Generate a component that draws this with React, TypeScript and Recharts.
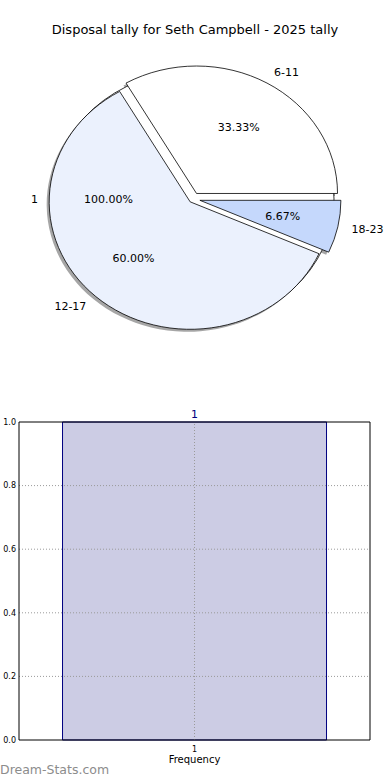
import { PieChart, Pie, BarChart, Bar, XAxis, YAxis, ReferenceLine, LabelList } from 'recharts';

const sliceNames = ['6-11', '12-17', '18-23'];
const sliceCounts = [5, 9, 1];
const sliceColors = ['#ffffff', '#ebf1fd', '#c5d8fc'];
const sliceExplode = [0.05, 0.03, 0.05];

const totalNames = ['1'];
const totalCounts = [1];
const totalColors = ['#ffffff'];
const totalExplode = [0];

const barCategories = ['1'];
const barFrequency = [1];
const yTicks = [0, 0.2, 0.4, 0.6, 0.8, 1.0];

const pieData = sliceNames.map((name, i) => ({ name, value: sliceCounts[i] }));
const totalData = totalNames.map((name, i) => ({ name, value: totalCounts[i] }));
const barData = barCategories.map((name, i) => ({ name, value: barFrequency[i] }));

const RAD = Math.PI / 180;
const SQUASH = 0.904; // the original pie is drawn as an ellipse
const FONT = '"DejaVu Sans", sans-serif';

function pt(cx: number, cy: number, r: number, a: number, k: number) {
  return [cx + k * r * Math.cos(a * RAD), cy - k * r * SQUASH * Math.sin(a * RAD)];
}

function wedgePath(cx: number, cy: number, r: number, a0: number, a1: number) {
  const rx = r;
  const ry = r * SQUASH;
  if (Math.abs(a1 - a0) >= 359.99) {
    return `M${cx + rx},${cy} A${rx},${ry} 0 1 0 ${cx - rx},${cy} A${rx},${ry} 0 1 0 ${cx + rx},${cy} Z`;
  }
  const [x0, y0] = pt(cx, cy, r, a0, 1);
  const [x1, y1] = pt(cx, cy, r, a1, 1);
  const large = a1 - a0 > 180 ? 1 : 0;
  return `M${cx},${cy} L${x0},${y0} A${rx},${ry} 0 ${large} 0 ${x1},${y1} Z`;
}

function center(p: any, explode: number[]) {
  const e = explode[p.index] ?? 0;
  const [ox, oy] = pt(0, 0, p.outerRadius, p.midAngle, e);
  return [p.cx + ox, p.cy + oy];
}

// shadows sit beneath every wedge of both pies, like matplotlib's zorder
const drawShadow = (explode: number[]) => (p: any) => {
  const [cx, cy] = center(p, explode);
  const d = wedgePath(cx, cy, p.outerRadius, p.startAngle, p.endAngle);
  return <path d={d} transform="translate(-2.5,2.5)" fill="#4d4d4d" fillOpacity={0.5} stroke="none" />;
};

const drawWedge = (explode: number[], colors: string[]) => (p: any) => {
  const [cx, cy] = center(p, explode);
  const d = wedgePath(cx, cy, p.outerRadius, p.startAngle, p.endAngle);
  return <path d={d} fill={colors[p.index]} stroke="#000" strokeWidth={0.8} />;
};

const drawText = (explode: number[]) => (p: any) => {
  const [cx, cy] = center(p, explode);
  const [lx, ly] = pt(cx, cy, p.outerRadius, p.midAngle, 1.1);
  const [tx, ty] = pt(cx, cy, p.outerRadius, p.midAngle, 0.6);
  const name = p.name ?? p.payload?.name;
  return (
    <g>
      <text x={lx} y={ly} textAnchor={lx >= cx ? 'start' : 'end'} dominantBaseline="central"
        fontSize={11} fontFamily={FONT} fill="#000">{name}</text>
      <text x={tx} y={ty} textAnchor="middle" dominantBaseline="central"
        fontSize={11} fontFamily={FONT} fill="#000">{(p.percent * 100).toFixed(2)}%</text>
    </g>
  );
};

const pieProps = {
  dataKey: 'value',
  nameKey: 'name',
  cx: 193,
  cy: 199,
  outerRadius: 141,
  startAngle: 0,
  endAngle: 360,
  fill: 'none',
  stroke: 'none',
  labelLine: false,
  isAnimationActive: false,
};

const gridStyle = { stroke: '#9a9a9a', strokeDasharray: '1 2', strokeWidth: 1 };

export default function App() {
  return (
    <div style={{ position: 'absolute', left: 0, top: 0, width: 390, height: 780, background: '#fff', fontFamily: FONT }}>
      <div style={{ position: 'absolute', top: 22, left: 0, width: 390, textAlign: 'center', fontSize: 13, lineHeight: '16px', color: '#000' }}>
        Disposal tally for Seth Campbell - 2025 tally
      </div>
      <div style={{ position: 'absolute', top: 0, left: 0 }}>
        <PieChart width={390} height={390} margin={{ top: 0, right: 0, bottom: 0, left: 0 }}>
          <Pie {...pieProps} data={totalData} label={drawShadow(totalExplode)} />
          <Pie {...pieProps} data={pieData} label={drawShadow(sliceExplode)} />
          <Pie {...pieProps} data={totalData} label={drawWedge(totalExplode, totalColors)} />
          <Pie {...pieProps} data={pieData} label={drawWedge(sliceExplode, sliceColors)} />
          <Pie {...pieProps} data={totalData} label={drawText(totalExplode)} />
          <Pie {...pieProps} data={pieData} label={drawText(sliceExplode)} />
        </PieChart>
      </div>
      <div style={{ position: 'absolute', top: 400, left: 0 }}>
        <BarChart width={390} height={380} data={barData} margin={{ top: 21, right: 19, bottom: 0, left: 0 }} barCategoryGap="12.4%">
          <XAxis dataKey="name" height={40} tickSize={0} tickMargin={6} axisLine={{ stroke: '#000' }}
            tick={{ fontSize: 8, fill: '#000', fontFamily: FONT }}
            label={{ value: 'Frequency', position: 'insideBottom', offset: 17, fontSize: 10, fill: '#000', fontFamily: FONT }} />
          <XAxis xAxisId="top" dataKey="name" orientation="top" height={1} tick={false} tickLine={false} axisLine={{ stroke: '#000' }} />
          <YAxis domain={[0, 1]} ticks={yTicks} interval={0} width={19} tickSize={0} tickMargin={3}
            tickFormatter={(v: number) => v.toFixed(1)} axisLine={{ stroke: '#000' }}
            tick={{ fontSize: 8, fill: '#000', fontFamily: FONT }} />
          <YAxis yAxisId="right" orientation="right" width={1} domain={[0, 1]} tick={false} tickLine={false} axisLine={{ stroke: '#000' }} />
          <Bar dataKey="value" fill="#ccccE4" stroke="#000080" strokeWidth={1} isAnimationActive={false}>
            <LabelList dataKey="value" position="top" offset={4} fill="#000080" fontSize={11} fontFamily={FONT} />
          </Bar>
          {yTicks.slice(1, -1).map((t) => (
            <ReferenceLine key={t} y={t} {...gridStyle} />
          ))}
          {barCategories.map((c) => (
            <ReferenceLine key={c} x={c} {...gridStyle} />
          ))}
        </BarChart>
      </div>
      <div style={{ position: 'absolute', top: 762, left: 0, fontSize: 12.5, lineHeight: '15px', color: '#8c8c8c' }}>
        Dream-Stats.com
      </div>
    </div>
  );
}
